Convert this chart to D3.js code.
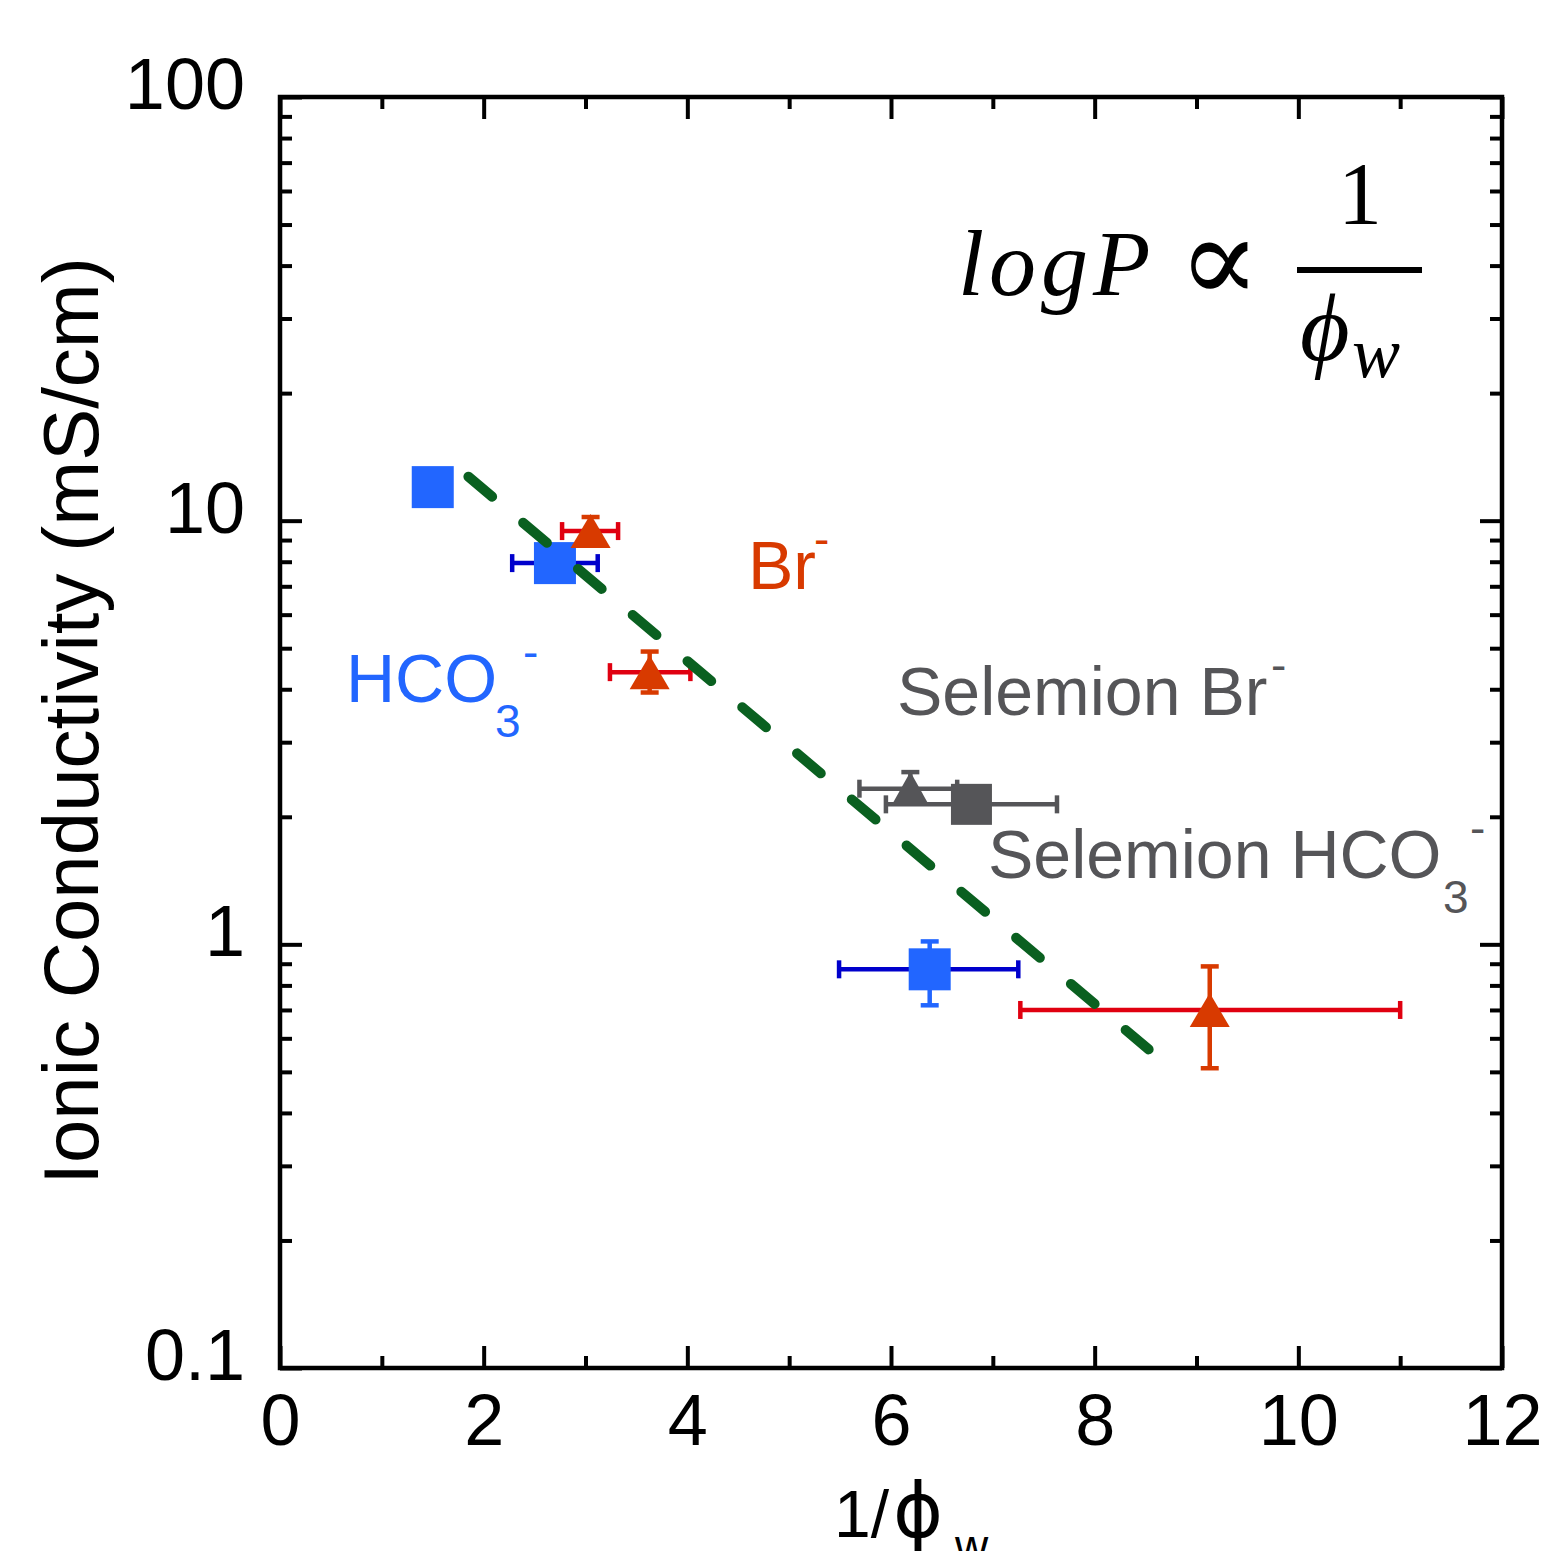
<!DOCTYPE html>
<html>
<head>
<meta charset="utf-8">
<script src="https://cdn.jsdelivr.net/npm/d3@7"></script>
<style>
body { margin: 0; background: #fff; }
</style>
</head>
<body>
<div id="chart"></div>
<script>
let svgWidth = 1543;
let svgHeight = 1551;

// HCO3- (blue squares)
let hcoX   = [1.50, 2.70, 6.38];
let hcoY   = [12.0, 7.94, 0.873];
let hcoXLo = [1.50, 2.28, 5.49];
let hcoXHi = [1.50, 3.12, 7.25];
let hcoYLo = [12.0, 7.94, 0.718];
let hcoYHi = [12.0, 7.94, 1.016];

// Br- (orange triangles)
let brX   = [3.05, 3.63, 9.13];
let brY   = [9.45, 4.39, 0.700];
let brXLo = [2.77, 3.24, 7.27];
let brXHi = [3.32, 4.03, 11.0];
let brYLo = [9.45, 3.93, 0.510];
let brYHi = [10.2, 4.91, 0.887];

// Selemion Br- (gray triangle)
let selBrX   = [6.19];
let selBrY   = [2.33];
let selBrXLo = [5.69];
let selBrXHi = [6.65];
let selBrYLo = [2.33];
let selBrYHi = [2.55];

// Selemion HCO3- (gray square)
let selHcoX   = [6.79];
let selHcoY   = [2.14];
let selHcoXLo = [5.95];
let selHcoXHi = [7.63];
let selHcoYLo = [2.14];
let selHcoYHi = [2.14];

// dashed fit line
let fitX = [1.85, 8.53];
let fitY = [12.7, 0.565];

// tick values
let xMajor = [0, 2, 4, 6, 8, 10, 12];
let xMinor = [1, 3, 5, 7, 9, 11];
let yMajor = [0.1, 1, 10, 100];
let yMinor = [0.2, 0.3, 0.4, 0.5, 0.6, 0.7, 0.8, 0.9,
              2, 3, 4, 5, 6, 7, 8, 9,
              20, 30, 40, 50, 60, 70, 80, 90];

let sans = "'Liberation Sans', Arial, sans-serif";
let serif = "'Liberation Serif', 'DejaVu Serif', serif";

let plot = { left: 280, right: 1502, top: 97, bottom: 1368 };

let svg = d3.select("#chart")
  .append("svg")
  .attr("width", svgWidth)
  .attr("height", svgHeight)
  .style("font-family", sans);

let x = d3.scaleLinear().domain([0, 12]).range([plot.left, plot.right]);
let y = d3.scaleLog().domain([0.1, 100]).range([plot.bottom, plot.top]);

// axes (ticks inward on all four sides)
function drawAxis(axis, tx, ty, size, values, fmt, pad) {
  let g = svg.append("g")
    .attr("transform", `translate(${tx}, ${ty})`)
    .call(axis.tickValues(values).tickSize(-size).tickPadding(pad).tickFormat(fmt));
  g.select(".domain").remove();
  g.selectAll("line").attr("stroke", "#000").attr("stroke-width", 4);
  return g;
}

let noLabel = () => "";

let xb = drawAxis(d3.axisBottom(x), 0, plot.bottom, 22, xMajor, d3.format("d"), 26);
drawAxis(d3.axisBottom(x), 0, plot.bottom, 12, xMinor, noLabel, 0);
drawAxis(d3.axisTop(x), 0, plot.top, 22, xMajor, noLabel, 0);
drawAxis(d3.axisTop(x), 0, plot.top, 12, xMinor, noLabel, 0);

let yl = drawAxis(d3.axisLeft(y), plot.left, 0, 22, yMajor, d => d < 1 ? d3.format(".1f")(d) : d3.format("d")(d), 35);
drawAxis(d3.axisLeft(y), plot.left, 0, 12, yMinor, noLabel, 0);
drawAxis(d3.axisRight(y), plot.right, 0, 22, yMajor, noLabel, 0);
drawAxis(d3.axisRight(y), plot.right, 0, 12, yMinor, noLabel, 0);

xb.selectAll("text")
  .attr("font-size", 72)
  .attr("fill", "#000")
  .style("font-family", sans);
yl.selectAll("text")
  .attr("font-size", 72)
  .attr("fill", "#000")
  .attr("dy", "0.16em")
  .style("font-family", sans);

// frame
svg.append("rect")
  .attr("x", plot.left)
  .attr("y", plot.top)
  .attr("width", plot.right - plot.left)
  .attr("height", plot.bottom - plot.top)
  .attr("fill", "none")
  .attr("stroke", "#000")
  .attr("stroke-width", 4.5);

// axis titles
svg.append("text")
  .attr("transform", `translate(98, 721) rotate(-90)`)
  .attr("text-anchor", "middle")
  .attr("font-size", 78)
  .attr("fill", "#000")
  .text("Ionic Conductivity (mS/cm)");

let xTitle = svg.append("g").attr("fill", "#000");
xTitle.append("text").attr("x", 834).attr("y", 1537).attr("font-size", 66).text("1/");
xTitle.append("text").attr("x", 893).attr("y", 1537).attr("font-size", 76)
  .style("font-family", "'DejaVu Sans', sans-serif").text("\u03D5");
xTitle.append("text").attr("x", 955).attr("y", 1562).attr("font-size", 46).text("w");

// build series
function series(xs, ys, xlo, xhi, ylo, yhi) {
  return xs.map((v, i) => ({ x: v, y: ys[i], xlo: xlo[i], xhi: xhi[i], ylo: ylo[i], yhi: yhi[i] }));
}

let hco = series(hcoX, hcoY, hcoXLo, hcoXHi, hcoYLo, hcoYHi);
let br = series(brX, brY, brXLo, brXHi, brYLo, brYHi);
let selBr = series(selBrX, selBrY, selBrXLo, selBrXHi, selBrYLo, selBrYHi);
let selHco = series(selHcoX, selHcoY, selHcoXLo, selHcoXHi, selHcoYLo, selHcoYHi);

let cap = 9;

function errorBars(data, xColor, yColor) {
  let g = svg.append("g").attr("stroke-width", 4.5).attr("fill", "none");
  data.forEach(d => {
    if (d.xhi > d.xlo) {
      let gx = g.append("g").attr("stroke", xColor);
      gx.append("line")
        .attr("x1", x(d.xlo)).attr("x2", x(d.xhi))
        .attr("y1", y(d.y)).attr("y2", y(d.y));
      [d.xlo, d.xhi].forEach(v => {
        gx.append("line")
          .attr("x1", x(v)).attr("x2", x(v))
          .attr("y1", y(d.y) - cap).attr("y2", y(d.y) + cap);
      });
    }
    if (d.yhi > d.ylo) {
      let gy = g.append("g").attr("stroke", yColor);
      gy.append("line")
        .attr("x1", x(d.x)).attr("x2", x(d.x))
        .attr("y1", y(d.ylo)).attr("y2", y(d.yhi));
      [d.ylo, d.yhi].forEach(v => {
        if (v === d.y) return;
        gy.append("line")
          .attr("x1", x(d.x) - cap).attr("x2", x(d.x) + cap)
          .attr("y1", y(v)).attr("y2", y(v));
      });
    }
  });
}

function squares(data, color, size) {
  svg.append("g").selectAll("rect")
    .data(data)
    .enter()
    .append("rect")
    .attr("x", d => x(d.x) - size / 2)
    .attr("y", d => y(d.y) - size / 2)
    .attr("width", size)
    .attr("height", size)
    .attr("fill", color);
}

function triangles(data, color, w, h) {
  svg.append("g").selectAll("path")
    .data(data)
    .enter()
    .append("path")
    .attr("d", `M0,${-h / 2}L${w / 2},${h / 2}L${-w / 2},${h / 2}Z`)
    .attr("transform", d => `translate(${x(d.x)}, ${y(d.y)})`)
    .attr("fill", color);
}

errorBars(selBr, "#555558", "#555558");
errorBars(selHco, "#555558", "#555558");
errorBars(hco, "#0000cc", "#2266ff");
errorBars(br, "#e00010", "#d83a00");

triangles(selBr, "#555558", 38, 34);
squares(selHco, "#555558", 41);
squares(hco, "#2266ff", 42);
triangles(br, "#d83a00", 40, 34);

// dashed fit line
let fitLine = d3.line().x(d => x(d[0])).y(d => y(d[1]));
svg.append("path")
  .datum(fitX.map((v, i) => [v, fitY[i]]))
  .attr("d", fitLine)
  .attr("fill", "none")
  .attr("stroke", "#0a6020")
  .attr("stroke-width", 10)
  .attr("stroke-linecap", "round")
  .attr("stroke-dasharray", "31 40.6");

// annotations
function label(px, py, main, sub, subDx, sup, supDx, color) {
  let g = svg.append("g").attr("fill", color);
  g.append("text").attr("x", px).attr("y", py).attr("font-size", 68).text(main);
  if (sub) {
    g.append("text").attr("x", px + subDx).attr("y", py + 35).attr("font-size", 46).text(sub);
  }
  if (sup) {
    g.append("text").attr("x", px + supDx).attr("y", py - 34).attr("font-size", 46).text(sup);
  }
}

label(748, 589, "Br", null, 0, "-", 66, "#d83a00");
label(346, 702, "HCO", "3", 149, "-", 177, "#2266ff");
label(897, 715, "Selemion Br", null, 0, "-", 374, "#555558");
label(988, 878, "Selemion HCO", "3", 455, "-", 482, "#555558");

// formula
let formula = svg.append("g").attr("fill", "#000");
formula.append("text")
  .attr("x", 958).attr("y", 295)
  .style("font-family", serif)
  .attr("font-style", "italic")
  .attr("font-size", 94)
  .attr("letter-spacing", 5)
  .text("logP");
formula.append("text")
  .attr("x", 1178).attr("y", 302)
  .style("font-family", "'DejaVu Serif', serif")
  .attr("font-size", 122)
  .text("\u221D");
formula.append("line")
  .attr("x1", 1297).attr("x2", 1422)
  .attr("y1", 270).attr("y2", 270)
  .attr("stroke", "#000")
  .attr("stroke-width", 6);
formula.append("text")
  .attr("x", 1360).attr("y", 223)
  .attr("text-anchor", "middle")
  .style("font-family", serif)
  .attr("font-size", 88)
  .text("1");
formula.append("text")
  .attr("x", 1300).attr("y", 360)
  .style("font-family", serif)
  .attr("font-style", "italic")
  .attr("font-size", 96)
  .text("\u03D5");
formula.append("text")
  .attr("x", 1352).attr("y", 377)
  .style("font-family", serif)
  .attr("font-style", "italic")
  .attr("font-size", 72)
  .text("w");
</script>
</body>
</html>
